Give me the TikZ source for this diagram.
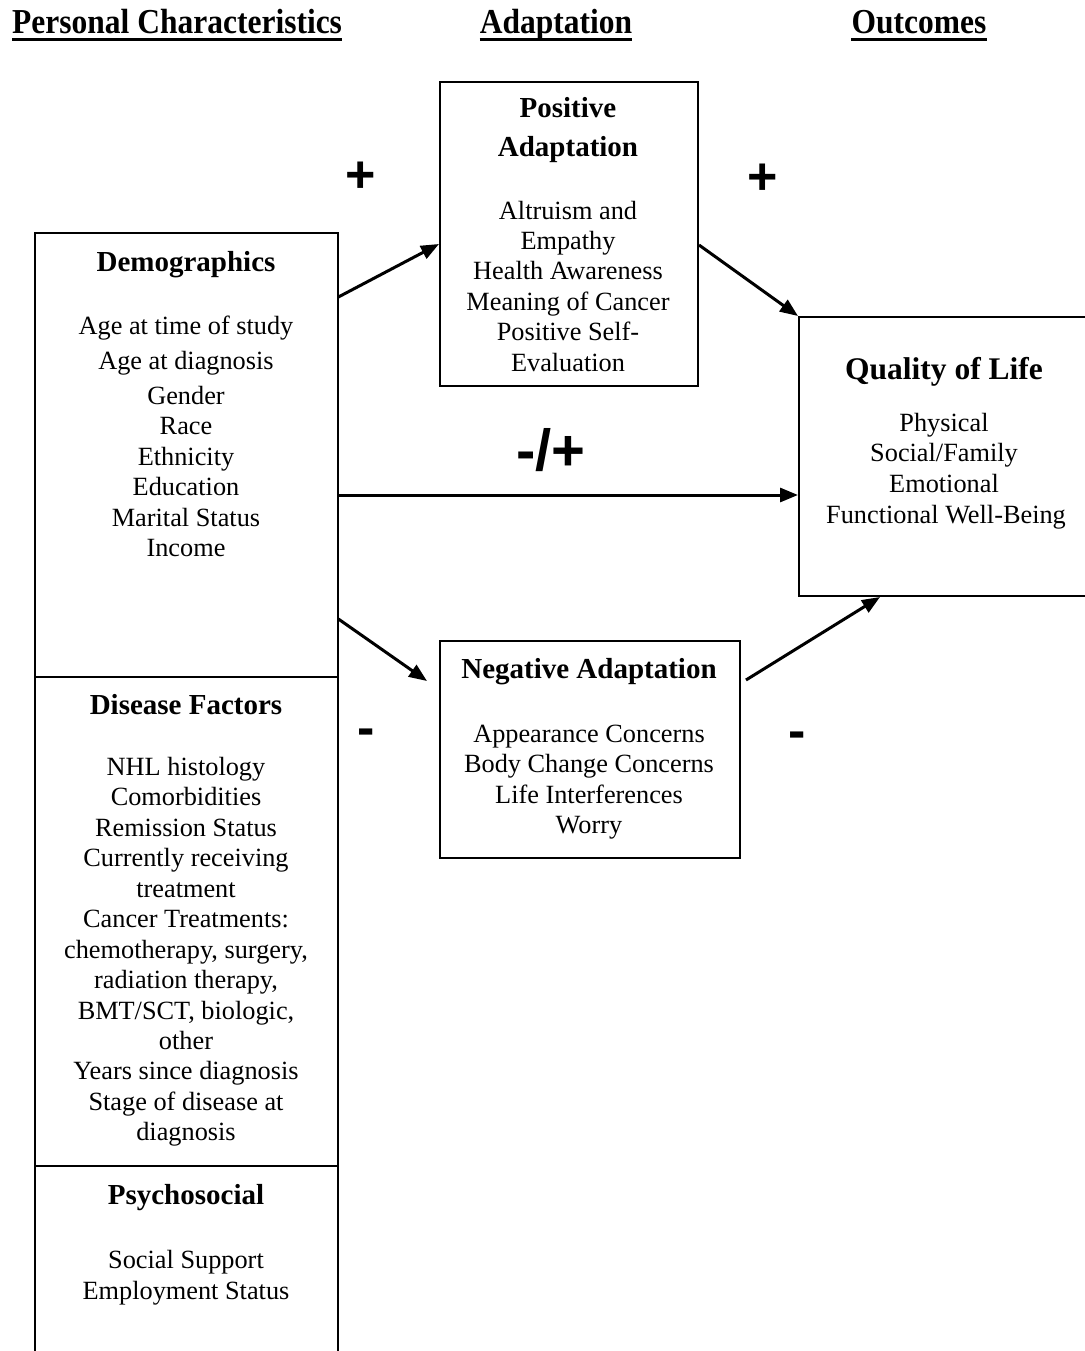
\documentclass[tikz,border=0pt]{standalone}
\usepackage{fontspec}
\setmainfont{Liberation Serif}
\newfontfamily\signfont{Liberation Sans}
\newfontfamily\hdrfont{Liberation Serif}[FakeStretch=0.9]
\usetikzlibrary{arrows.meta,calc}
\begin{document}
\begin{tikzpicture}[x=1pt,y=-1pt,
  boxline/.style={line width=2pt},
  boxnode/.style={draw,line width=2pt,inner sep=0,anchor=north west},
  item/.style={font=\fontsize{26.3}{30}\selectfont,anchor=base,inner sep=0},
  ttl/.style={font=\fontsize{29}{33}\selectfont\bfseries,anchor=base,inner sep=0},
  qttl/.style={font=\fontsize{31.5}{35}\selectfont\bfseries,anchor=base,inner sep=0},
  hdr/.style={font=\hdrfont\bfseries\fontsize{35}{38}\selectfont,anchor=base,inner sep=0},
  sign/.style={font=\signfont\bfseries\fontsize{52}{52}\selectfont,anchor=base,inner sep=0},
  bigsign/.style={font=\signfont\bfseries\fontsize{58}{58}\selectfont,anchor=base,inner sep=0},
  arr/.style={line width=3pt,-{Triangle[length=18pt,width=14pt]}},
  uline/.style={line width=3.5pt}
]
\useasboundingbox[fill=white] (0,0) rectangle (1084,1351);

% headers
\node[hdr,anchor=base west] (h1) at (12,34) {Personal Characteristics};
\node[hdr] (h2) at (556,34) {Adaptation};
\node[hdr] (h3) at (919,34) {Outcomes};
\foreach \h in {h1,h2,h3}
  \draw[uline] ([yshift=-5.5pt]\h.base west) -- ([yshift=-5.5pt]\h.base east);

% left box (open at the bottom)
\node[inner sep=0,anchor=north west,minimum width=303pt,minimum height=1140pt] (lbox) at (35,233) {};
\draw[boxline] (lbox.south west) -- (lbox.north west) -- (lbox.north east) -- (lbox.south east);
\draw[boxline] (35,677) -- (338,677);
\draw[boxline] (35,1166) -- (338,1166);

% Demographics
\node[ttl] (dt) at (186,271) {Demographics};
\node[item] (d1) at (186,334) {Age at time of study};
\node[item] (d2) at (186,369) {Age at diagnosis};
\node[item] (d3) at (186,404) {Gender};
\node[item] (d4) at (186,434) {Race};
\node[item] (d5) at (186,465) {Ethnicity};
\node[item] (d6) at (186,495) {Education};
\node[item] (d7) at (186,526) {Marital Status};
\node[item] (d8) at (186,556) {Income};

% Disease factors
\node[ttl] (ft) at (186,714) {Disease Factors};
\node[item] (f1) at (186,775) {NHL histology};
\node[item] (f2) at (186,805) {Comorbidities};
\node[item] (f3) at (186,836) {Remission Status};
\node[item] (f4) at (186,866) {Currently receiving};
\node[item] (f5) at (186,897) {treatment};
\node[item] (f6) at (186,927) {Cancer Treatments:};
\node[item] (f7) at (186,958) {chemotherapy, surgery,};
\node[item] (f8) at (186,988) {radiation therapy,};
\node[item] (f9) at (186,1019) {BMT/SCT, biologic,};
\node[item] (f10) at (186,1049) {other};
\node[item] (f11) at (186,1079) {Years since diagnosis};
\node[item] (f12) at (186,1110) {Stage of disease at};
\node[item] (f13) at (186,1140) {diagnosis};

% Psychosocial
\node[ttl] (st) at (186,1204) {Psychosocial};
\node[item] (s1) at (186,1268) {Social Support};
\node[item] (s2) at (186,1299) {Employment Status};

% Positive adaptation
\node[boxnode,minimum width=258pt,minimum height=304pt] (pos) at (439,81) {};
\node[ttl] (pt1) at (568,118) {Positive};
\node[ttl] (pt2) at (568,157) {Adaptation};
\node[item] (p1) at (568,219) {Altruism and};
\node[item] (p2) at (568,249) {Empathy};
\node[item] (p3) at (568,279) {Health Awareness};
\node[item] (p4) at (568,310) {Meaning of Cancer};
\node[item] (p5) at (568,340) {Positive Self-};
\node[item] (p6) at (568,371) {Evaluation};

% Negative adaptation
\node[boxnode,minimum width=300pt,minimum height=217pt] (neg) at (439,640) {};
\node[ttl] (nt) at (589,678) {Negative Adaptation};
\node[item] (n1) at (589,742) {Appearance Concerns};
\node[item] (n2) at (589,772) {Body Change Concerns};
\node[item] (n3) at (589,803) {Life Interferences};
\node[item] (n4) at (589,833) {Worry};

% Quality of life (right edge beyond the page)
\node[boxnode,minimum width=300pt,minimum height=279pt] (qol) at (798,316) {};
\node[qttl] (qt) at (944,379) {Quality of Life};
\node[item] (q1) at (944,431) {Physical};
\node[item] (q2) at (944,461) {Social/Family};
\node[item] (q3) at (944,492) {Emotional};
\node[item] (q4) at (946,523) {Functional Well-Being};

% connectors
\draw[arr] ($(lbox.north east)+(0,64)$) -- ($(pos.north west)+(0,163)$);
\draw[arr] ($(pos.north east)+(0,164)$) -- (qol.north west);
\draw[arr] ($(lbox.north east)+(0,262)$) -- ($(qol.north west)+(0,179)$);
\draw[arr] ($(lbox.north east)+(0,386)$) -- ($(neg.north west)+(-12,41)$);
\draw[arr] ($(neg.north east)+(5,40)$) -- ($(qol.south west)+(82,0)$);

% signs
\node[sign] (sg1) at (361,193) {+};
\node[sign] (sg2) at (763,194) {+};
\node[bigsign] (sg3) at (551,470) {-/+};
\node[sign] (sg4) at (366,745) {-};
\node[sign] (sg5) at (797,748) {-};
\end{tikzpicture}
\end{document}
